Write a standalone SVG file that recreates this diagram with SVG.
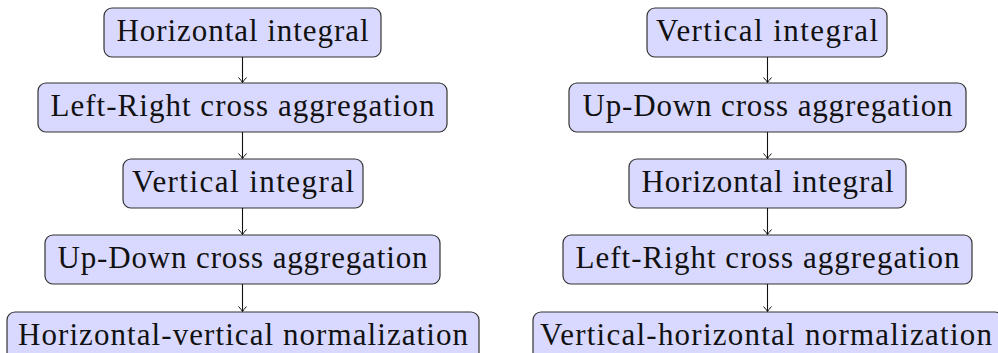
<svg xmlns="http://www.w3.org/2000/svg" width="998" height="353" viewBox="0 0 998 353">
  <defs>
    <style>
      .box { fill: #d9d9ff; stroke: #333; stroke-width: 1.2; }
      .lbl { font-family: "Liberation Serif", serif; font-size: 31px; fill: #111; text-anchor: middle; }
      .edge { stroke: #111; stroke-width: 1.1; fill: none; marker-end: url(#tip); }
    </style>
    <marker id="tip" viewBox="-6 -5 7 10" markerWidth="7" markerHeight="10" refX="0" refY="0" orient="auto" markerUnits="userSpaceOnUse">
      <path d="M-5,-4 Q-1.5,-0.8 0,0 Q-1.5,0.8 -5,4" fill="none" stroke="#111" stroke-width="1"/>
    </marker>
  </defs>

  <!-- left pipeline -->
  <g id="l1"><rect class="box" x="104" y="8" width="277" height="49" rx="8"/><text class="lbl" x="242.5" y="41" textLength="252">Horizontal integral</text></g>
  <g id="l2"><rect class="box" x="38" y="83" width="409" height="49" rx="8"/><text class="lbl" x="242.5" y="116" textLength="384">Left-Right cross aggregation</text></g>
  <g id="l3"><rect class="box" x="123" y="159" width="240" height="49" rx="8"/><text class="lbl" x="243" y="192" textLength="222">Vertical integral</text></g>
  <g id="l4"><rect class="box" x="45" y="235" width="395" height="49" rx="8"/><text class="lbl" x="242.5" y="268" textLength="370">Up-Down cross aggregation</text></g>
  <g id="l5"><rect class="box" x="7" y="312" width="472" height="49" rx="8"/><text class="lbl" x="243" y="345" textLength="450">Horizontal-vertical normalization</text></g>

  <!-- right pipeline -->
  <g id="r1"><rect class="box" x="647" y="8" width="240" height="49" rx="8"/><text class="lbl" x="767" y="41" textLength="222">Vertical integral</text></g>
  <g id="r2"><rect class="box" x="569" y="83" width="397" height="49" rx="8"/><text class="lbl" x="767.5" y="116" textLength="370">Up-Down cross aggregation</text></g>
  <g id="r3"><rect class="box" x="629" y="159" width="277" height="49" rx="8"/><text class="lbl" x="767.5" y="192" textLength="252">Horizontal integral</text></g>
  <g id="r4"><rect class="box" x="563" y="235" width="409" height="49" rx="8"/><text class="lbl" x="767.5" y="268" textLength="384">Left-Right cross aggregation</text></g>
  <g id="r5"><rect class="box" x="533" y="312" width="470" height="49" rx="8"/><text class="lbl" x="766" y="345" textLength="452">Vertical-horizontal normalization</text></g>

  <g id="connectors">
    <line class="edge" x1="242.5" y1="57" x2="242.5" y2="82.5"/>
    <line class="edge" x1="242.5" y1="132" x2="242.5" y2="158.5"/>
    <line class="edge" x1="242.5" y1="208" x2="242.5" y2="234.5"/>
    <line class="edge" x1="242.5" y1="284" x2="242.5" y2="311.5"/>
    <line class="edge" x1="767.5" y1="57" x2="767.5" y2="82.5"/>
    <line class="edge" x1="767.5" y1="132" x2="767.5" y2="158.5"/>
    <line class="edge" x1="767.5" y1="208" x2="767.5" y2="234.5"/>
    <line class="edge" x1="767.5" y1="284" x2="767.5" y2="311.5"/>
  </g>
</svg>
